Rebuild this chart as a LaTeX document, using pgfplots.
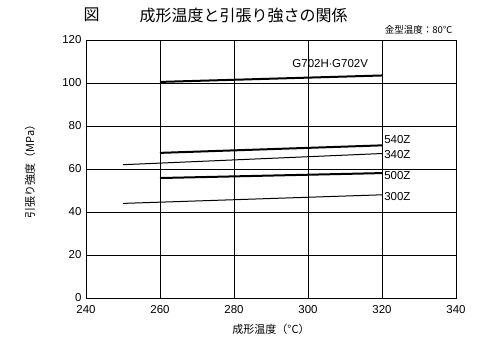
\documentclass[border=0pt]{standalone}
\usepackage{fontspec}
\setmainfont{Liberation Sans}
\newfontfamily\jp{Noto Sans CJK JP}
\usepackage{pgfplots}
\pgfplotsset{compat=1.18}
\begin{document}
\begin{tikzpicture}
\begin{axis}[name=ax,
  scale only axis, width=370pt, height=258pt,
  xmin=240, xmax=340, ymin=0, ymax=120,
  xtick={240,260,...,340}, ytick={0,20,...,120},
  grid=major, major grid style={black, line width=0.6pt},
  axis line style={black, line width=0.8pt},
  major tick length=0pt,
  /pgf/number format/assume math mode=true,
  ticklabel style={font=\fontsize{11.5}{12}\selectfont},
  xticklabel style={yshift=-4pt},
  yticklabel style={xshift=-1pt},
  clip=false,
]
\addplot[black, line width=2pt] coordinates {(260,100.5) (320,103.5)};
\addplot[black, line width=2pt] coordinates {(260,67.5) (320,71)};
\addplot[black, line width=1pt] coordinates {(250,62) (320,67.2)};
\addplot[black, line width=2pt] coordinates {(260,55.8) (320,58.1)};
\addplot[black, line width=1pt] coordinates {(250,44) (320,48)};
\node[font=\fontsize{11.5}{12}\selectfont] at (axis cs:306,109) {G702H$\cdot$G702V};
\node[anchor=west, inner sep=1pt, font=\fontsize{11.5}{12}\selectfont] at (axis cs:320.3,73.5) {540Z};
\node[anchor=west, inner sep=1pt, font=\fontsize{11.5}{12}\selectfont] at (axis cs:320.3,66.6) {340Z};
\node[anchor=west, inner sep=1pt, font=\fontsize{11.5}{12}\selectfont] at (axis cs:320.3,56.8) {500Z};
\node[anchor=west, inner sep=1pt, font=\fontsize{11.5}{12}\selectfont] at (axis cs:320.3,47.4) {300Z};
\end{axis}
\path[use as bounding box] ([xshift=-86pt,yshift=-59pt]ax.south west) rectangle ([xshift=44pt,yshift=40pt]ax.north east);
\node[font=\jp\fontsize{16}{17}\selectfont, anchor=west] at ([xshift=-6pt,yshift=25pt]ax.north west) {図};
\node[font=\jp\fontsize{16}{17}\selectfont, anchor=west] at ([xshift=50pt,yshift=25pt]ax.north west) {成形温度と引張り強さの関係};
\node[font=\jp\fontsize{9.5}{10}\selectfont, anchor=east] at ([xshift=0pt,yshift=10pt]ax.north east) {金型温度：80℃};
\node[font=\jp\fontsize{11}{12}\selectfont] at ([yshift=-31pt]ax.south) {成形温度（°C）};
\node[font=\jp\fontsize{11}{12}\selectfont, rotate=90] at ([xshift=-56pt]ax.west) {引張り強度（MPa）};
\end{tikzpicture}
\end{document}
